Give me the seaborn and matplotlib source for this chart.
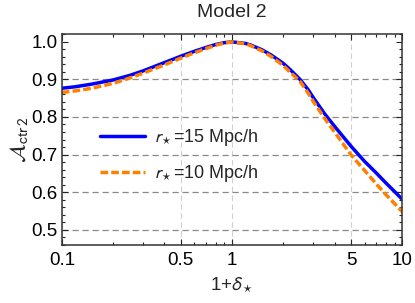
import numpy as np
import pandas as pd
import matplotlib
matplotlib.use("Agg")
import matplotlib.pyplot as plt
import matplotlib.ticker as mticker
import seaborn as sns

# ── data ──
delta = [0.1, 0.12, 0.15, 0.2, 0.25, 0.3, 0.4, 0.5, 0.6, 0.7, 0.8, 0.9, 1.0,
         1.2, 1.3, 1.5, 1.7, 2.0, 2.2, 2.5, 2.8, 3.0, 3.5, 4.0, 5.0, 6.0, 7.0, 8.0, 9.0, 10.0]
a_r15 = [0.876, 0.880, 0.887, 0.898, 0.910, 0.922, 0.944, 0.961, 0.974, 0.984, 0.992, 0.997, 0.999,
         0.995, 0.990, 0.978, 0.964, 0.942, 0.925, 0.900, 0.872, 0.851, 0.808, 0.775, 0.722,
         0.682, 0.652, 0.625, 0.602, 0.581]
a_r10 = [0.865, 0.869, 0.876, 0.889, 0.903, 0.916, 0.938, 0.956, 0.970, 0.981, 0.990, 0.996, 0.999,
         0.994, 0.988, 0.975, 0.960, 0.936, 0.918, 0.895, 0.863, 0.841, 0.796, 0.760, 0.699,
         0.658, 0.623, 0.594, 0.570, 0.548]
labels = [r"$r_\star$=15 Mpc/h", r"$r_\star$=10 Mpc/h"]
colors = ["#0000ff", "#ff8000"]

df = pd.concat([
    pd.DataFrame({"x": delta, "A": a_r15, "model": labels[0]}),
    pd.DataFrame({"x": delta, "A": a_r10, "model": labels[1]}),
])

x_ticks = [0.1, 0.5, 1, 5, 10]
x_ticklabels = ["0.1", "0.5", "1", "5", "10"]
y_ticks = [0.5, 0.6, 0.7, 0.8, 0.9, 1.0]

# ── style ──
sns.set_style("ticks")
plt.rcParams["font.family"] = ["Liberation Sans", "DejaVu Sans"]
plt.rcParams["mathtext.fontset"] = "stixsans"

fig = plt.figure(figsize=(4.15, 3.03), dpi=100)
ax = fig.add_axes([0.149, 0.1914, 0.8204, 0.6964])

sns.lineplot(data=df, x="x", y="A", hue="model", style="model",
             palette=dict(zip(labels, colors)),
             dashes={labels[0]: "", labels[1]: (2.2, 0.9)},
             linewidth=2.5, ax=ax, legend=True)

ax.set_xscale("log")
ax.set_xlim(0.1, 10)
ax.set_ylim(0.46, 1.02)

ax.xaxis.set_major_locator(mticker.FixedLocator(x_ticks))
ax.xaxis.set_major_formatter(mticker.FixedFormatter(x_ticklabels))
ax.xaxis.set_minor_locator(mticker.LogLocator(base=10, subs=(2, 3, 4, 6, 7, 8, 9)))
ax.xaxis.set_minor_formatter(mticker.NullFormatter())
ax.yaxis.set_major_locator(mticker.FixedLocator(y_ticks))
ax.yaxis.set_major_formatter(mticker.FormatStrFormatter("%.1f"))
ax.yaxis.set_minor_locator(mticker.MultipleLocator(0.02))

ax.tick_params(which="both", direction="in", top=True, right=True,
               colors="#222222", labelcolor="black", labelsize=13.5)
ax.tick_params(which="major", length=4, width=0.8)
ax.tick_params(which="minor", length=2.3, width=0.8)
ax.tick_params(axis="x", pad=5)
ax.tick_params(axis="y", pad=3)
for sp in ax.spines.values():
    sp.set_color("#333333")
    sp.set_linewidth(1.1)

# grid: dark dashed horizontals, light dashed verticals
ax.yaxis.grid(True, color="#8a8a8a", linestyle=(0, (5, 3)), linewidth=0.9)
ax.get_ygridlines()[-1].set_visible(False)
ax.xaxis.grid(True, which="major", color="#d0d0d0", linestyle=(0, (5, 3)), linewidth=0.8)
ax.set_axisbelow(True)

ax.set_title("Model 2", fontsize=14, pad=12)
ax.set_xlabel(r"1+$\delta_\star$", fontsize=13.5, labelpad=5)
ax.set_ylabel(r"$\mathcal{A}_{\mathrm{ctr}\,2}$", fontsize=16, labelpad=1)

ax.legend(loc="center left", bbox_to_anchor=(0.112, 0.423), frameon=False,
          fontsize=13, handlelength=2.5, handletextpad=0.5,
          labelspacing=0.85, borderpad=0, borderaxespad=0, title=None)

fig.savefig("out.png", dpi=100)
